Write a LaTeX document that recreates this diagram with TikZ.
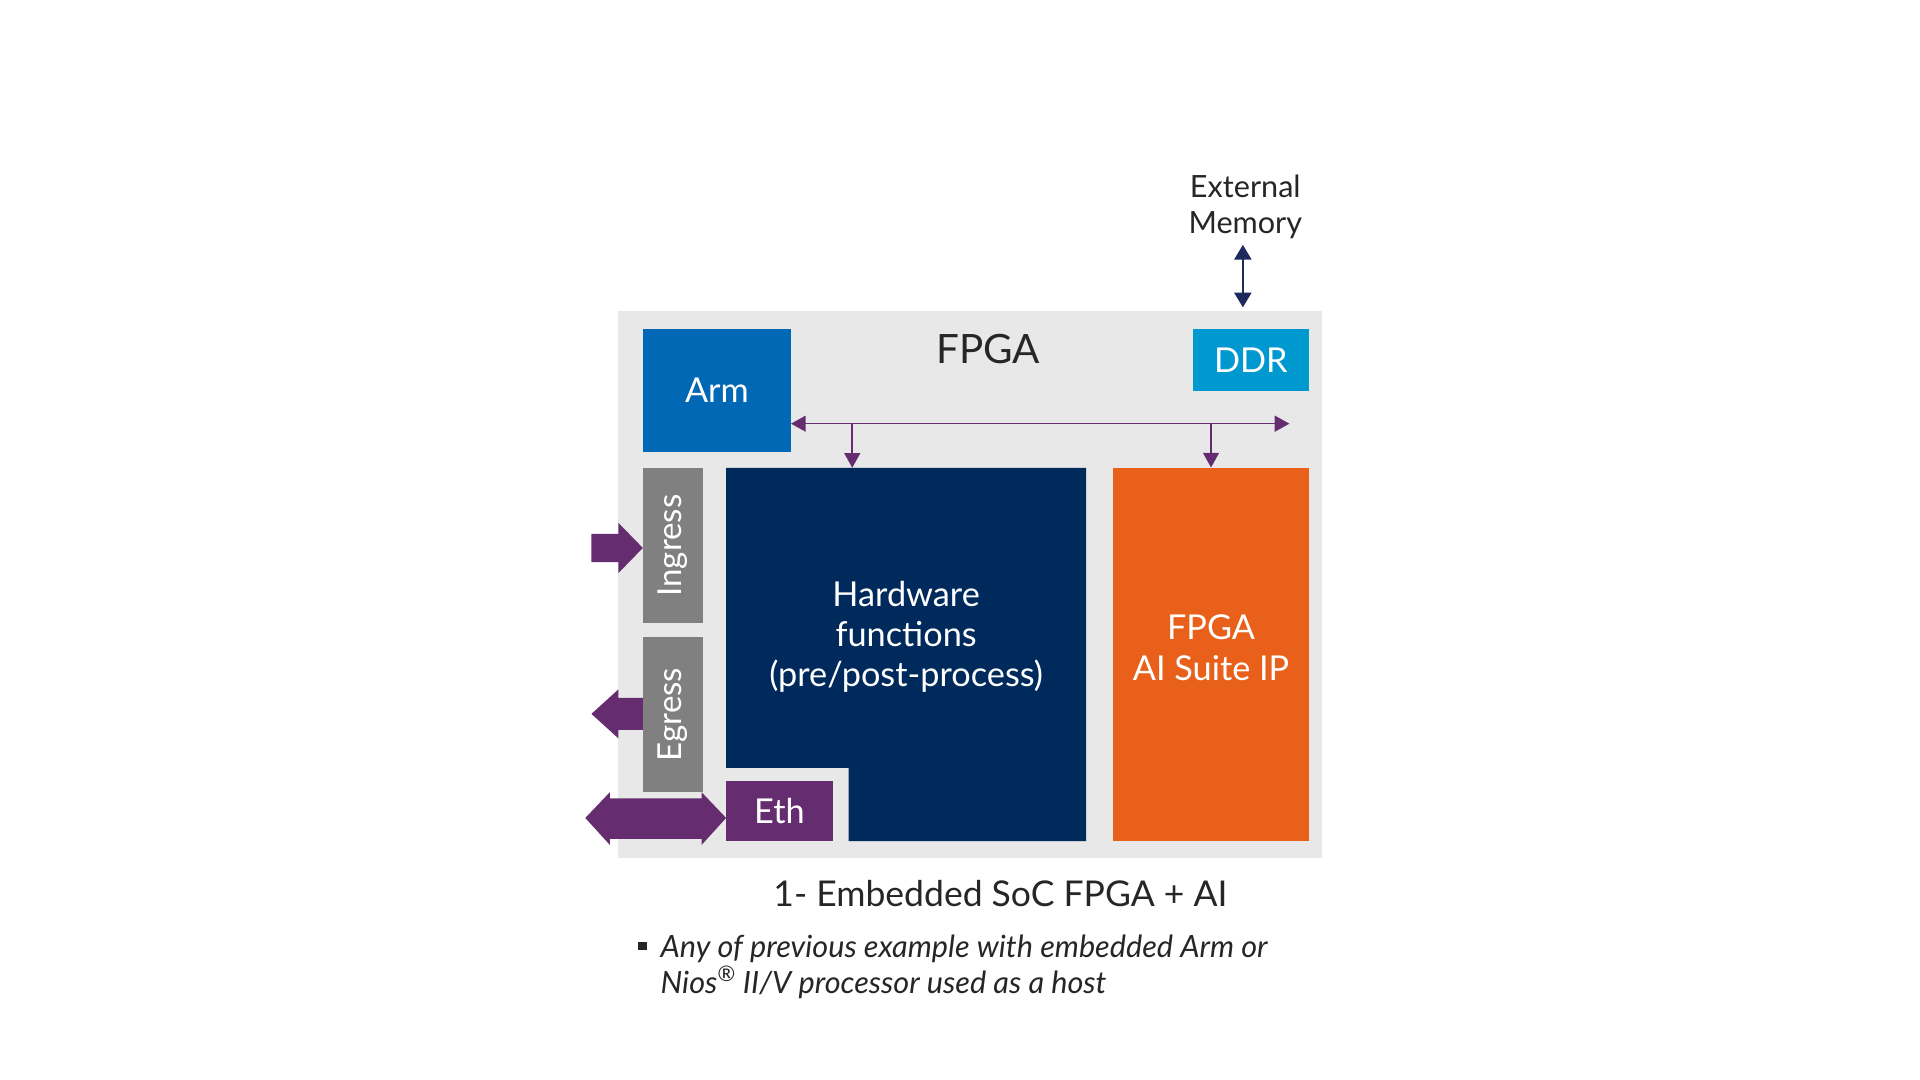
\documentclass[tikz,border=0pt]{standalone}
\usepackage{fontspec}
\setmainfont{Lato}
\usetikzlibrary{arrows.meta,shapes.arrows}
\definecolor{bg}{HTML}{E8E8E8}
\definecolor{arm}{HTML}{0068B5}
\definecolor{ddr}{HTML}{0099CF}
\definecolor{hw}{HTML}{002A5C}
\definecolor{ai}{HTML}{E86019}
\definecolor{pur}{HTML}{652D6F}
\definecolor{gry}{HTML}{808080}
\definecolor{navy}{HTML}{1F2A5C}
\definecolor{txt}{HTML}{262626}
\tikzset{
 blk/.style={fill=#1,draw=none,inner sep=0pt,text=white},
 bus/.style={pur,line width=1.3pt,-{Triangle[length=12pt,width=13pt]}},
 t/.style 2 args={font=\fontsize{#1}{#2}\selectfont}
}
\begin{document}
\begin{tikzpicture}[x=1pt,y=-1pt]
\useasboundingbox (0,0) rectangle (1568,882);
\fill[white] (0,0) rectangle (1568,882);
\fill[bg] (505,254) rectangle (1080,701);
\node[blk=arm,minimum width=121pt,minimum height=100pt,t={28}{30}] (arm) at (585.5,319) {Arm};
\node[blk=ddr,minimum width=95pt,minimum height=50pt,t={28}{30}] (ddr) at (1021.5,294) {DDR};
\node[text=txt,t={33}{34}] (fpga) at (807,285) {FPGA};
\node[blk=gry,minimum width=49pt,minimum height=127pt] (ing) at (549.5,445.5) {};
\node[rotate=90,text=white,t={27}{28}] at (ing) {Ingress};
\node[blk=gry,minimum width=49pt,minimum height=127pt] (egr) at (549.5,583.5) {};
\node[rotate=90,text=white,t={27}{28}] at (egr) {Egress};
\fill[hw] (593,382) -- (887,382) -- (887,687) -- (693,687) -- (693,627) -- (593,627) -- cycle;
\node[text=white,align=center,t={28}{33}] (hwt) at (740,520) {Hardware\\functions\\(pre/post-process)};
\coordinate (hwtop) at (696,382);
\node[blk=pur,minimum width=87pt,minimum height=49pt,t={28}{30}] (eth) at (636.5,662.5) {Eth};
\node[blk=ai,minimum width=160pt,minimum height=305pt] (ai) at (989,534.5) {};
\node[text=white,align=center,t={28}{33}] at (989,529) {FPGA\\AI Suite IP};
% bus
\coordinate (bl) at (646,346); \coordinate (br) at (1053,346);
\coordinate (b1) at (696,346); \coordinate (b2) at (989,346);
\draw[bus] (b1) -- (bl);
\draw[bus] (b1) -- (br);
\draw[bus] (b1) -- (hwtop);
\draw[bus] (b2) -- (ai.north);
% external memory
\node[text=txt,align=center,t={25}{29}] (ext) at (1017,169) {External\\Memory};
\coordinate (em) at (1015,225);
\draw[navy,line width=1.5pt,-{Triangle[length=12pt,width=14pt]}] (em) -- (1015,251);
\draw[navy,line width=1.5pt,-{Triangle[length=12pt,width=14pt]}] (em) -- (1015,200);
% block arrows
\fill[pur] (483,436) -- (505,436) -- (505,427) -- (525,447.5) -- (505,468) -- (505,459) -- (483,459) -- cycle;
\fill[pur] (525,570) -- (505,570) -- (505,563) -- (483,583) -- (505,603) -- (505,596) -- (525,596) -- cycle;
\fill[pur] (478,668) -- (498,647) -- (498,652) -- (573,652) -- (573,647) -- (593,668) -- (573,690) -- (573,685) -- (498,685) -- (498,690) -- cycle;
% caption
\node[text=txt,t={29}{30}] (cap) at (817,730) {1- Embedded SoC FPGA + AI};
\fill[txt] (521,769) rectangle (528,776);
\node[text=txt,anchor=north west,align=left,t={25}{29}] (bul) at (536,760) {\itshape Any of previous example with embedded Arm or\\\itshape Nios\textsuperscript{®} II/V processor used as a host};
\end{tikzpicture}
\end{document}
